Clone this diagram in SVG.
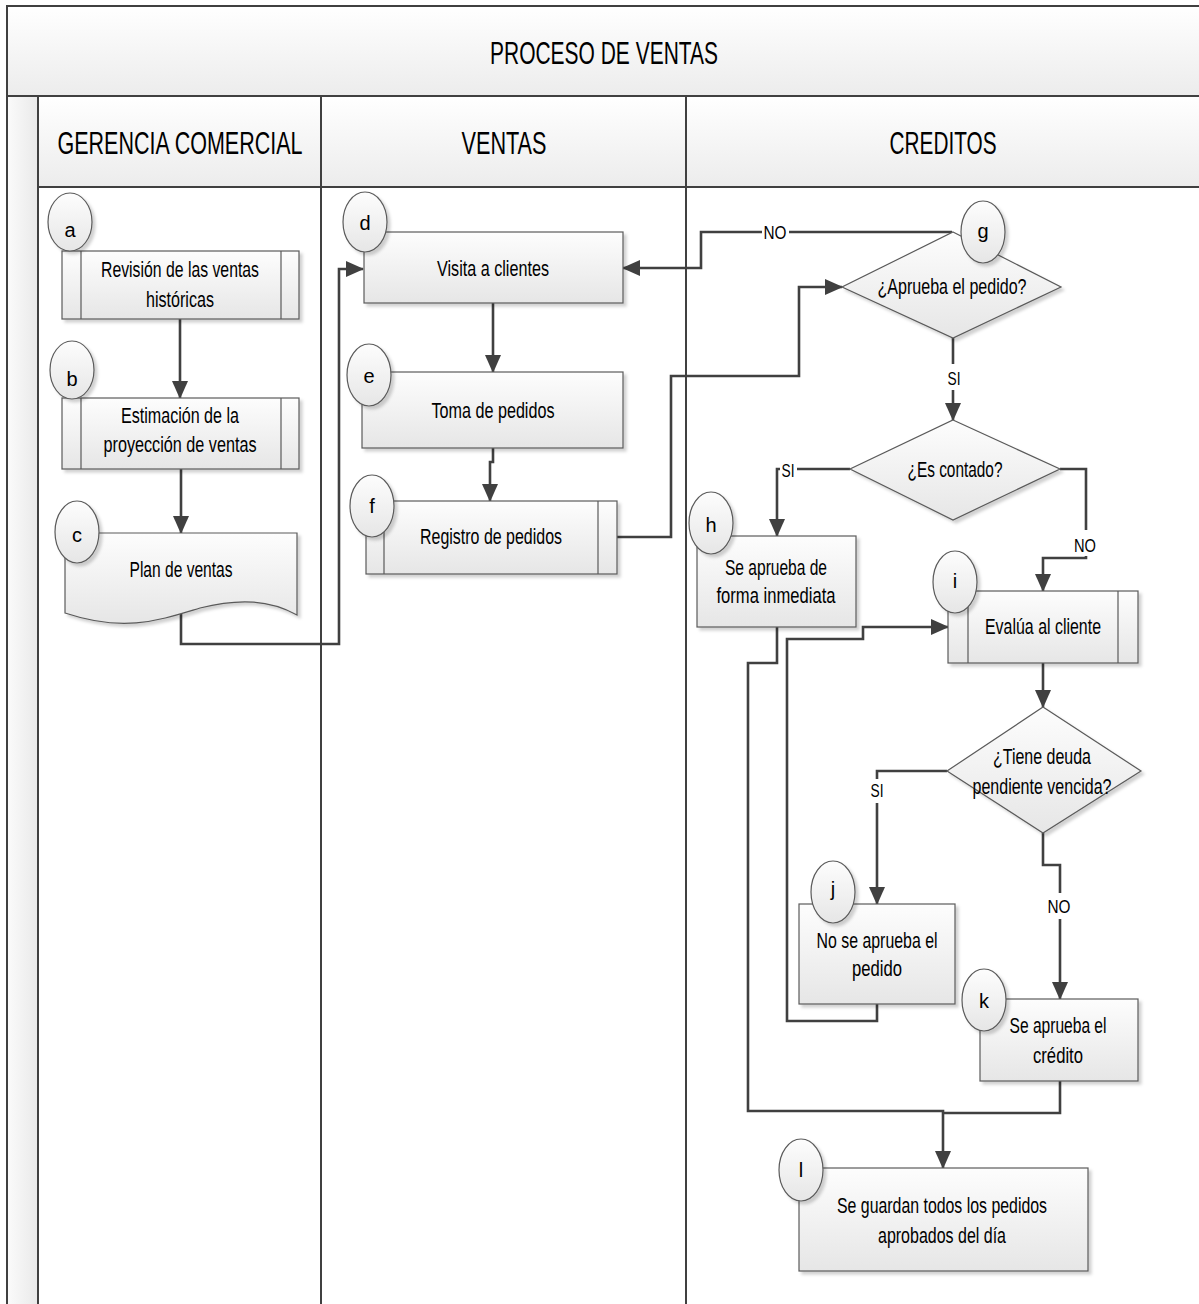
<svg xmlns="http://www.w3.org/2000/svg" width="1199" height="1304" viewBox="0 0 1199 1304">
<defs>
<linearGradient id="gBox" x1="0" y1="0" x2="0" y2="1"><stop offset="0" stop-color="#fdfdfd"/><stop offset="1" stop-color="#e6e6e6"/></linearGradient>
<linearGradient id="gHead" x1="0" y1="0" x2="0" y2="1"><stop offset="0" stop-color="#ffffff"/><stop offset="1" stop-color="#ececec"/></linearGradient>
<linearGradient id="gStrip" x1="0" y1="0" x2="1" y2="0"><stop offset="0" stop-color="#fbfbfb"/><stop offset="1" stop-color="#e9e9e9"/></linearGradient>
<filter id="sh" x="-10%" y="-10%" width="125%" height="130%"><feDropShadow dx="3" dy="3" stdDeviation="1.5" flood-color="#000" flood-opacity="0.18"/></filter>
<marker id="arr" viewBox="0 0 18 16" refX="17" refY="8" markerWidth="18" markerHeight="16" markerUnits="userSpaceOnUse" orient="auto"><path d="M0,0 L18,8 L0,16 Z" fill="#404040"/></marker>
<style>
.frame{fill:none;stroke:#404040;stroke-width:2}
.box{fill:url(#gBox);stroke:#5a5a5a;stroke-width:1.2;filter:url(#sh)}
.ln{stroke:#5a5a5a;stroke-width:1.2;fill:none}
.circ{fill:url(#gBox);stroke:#5a5a5a;stroke-width:1.2;filter:url(#sh)}
.conn{fill:none;stroke:#404040;stroke-width:2.6}
.arrow{marker-end:url(#arr)}
.t{font-family:"Liberation Sans",Arial,sans-serif;font-size:22px;fill:#000;text-anchor:middle}
.h{font-family:"Liberation Sans",Arial,sans-serif;font-size:32px;fill:#000;text-anchor:middle}
.c{font-family:"Liberation Sans",Arial,sans-serif;font-size:20px;fill:#000;text-anchor:middle}
.l{font-family:"Liberation Sans",Arial,sans-serif;font-size:19px;fill:#000;text-anchor:middle}
.bg{fill:#ffffff}
</style>
</defs>
<rect x="0" y="0" width="1199" height="1304" fill="#ffffff"/>
<g id="pool">
<rect x="7" y="6" width="1200" height="90" fill="url(#gHead)"/>
<rect x="38" y="96" width="1170" height="91" fill="url(#gHead)"/>
<rect x="7" y="96" width="31" height="1210" fill="url(#gStrip)"/>
<path class="frame" d="M1200,6 H7 V1306"/>
<path class="frame" d="M7,96 H1200"/>
<path class="frame" d="M38,96 V1306"/>
<path class="frame" d="M38,187 H1200"/>
<path class="frame" d="M321,96 V1306"/>
<path class="frame" d="M686,96 V1306"/>
<text class="h" x="604" y="64" font-size="31" textLength="228" lengthAdjust="spacingAndGlyphs">PROCESO DE VENTAS</text>
<text class="h" x="180" y="154" textLength="245" lengthAdjust="spacingAndGlyphs">GERENCIA COMERCIAL</text>
<text class="h" x="504" y="154" textLength="85" lengthAdjust="spacingAndGlyphs">VENTAS</text>
<text class="h" x="943" y="154" textLength="107" lengthAdjust="spacingAndGlyphs">CREDITOS</text>
</g>
<g id="connectors">
<path class="conn arrow" d="M180,319 V398"/>
<path class="conn arrow" d="M181,469 V533"/>
<path class="conn arrow" d="M181,614 V644 H339 V269 H363"/>
<path class="conn arrow" d="M493,303 V372"/>
<path class="conn arrow" d="M493,448 V462 H490 V501"/>
<path class="conn arrow" d="M617,537 H671 V376 H799 V287 H842"/>
<path class="conn arrow" d="M952,232 H701 V268 H623"/>
<path class="conn arrow" d="M953,338 V420"/>
<path class="conn arrow" d="M850,469 H777 V536"/>
<path class="conn arrow" d="M1060,469 H1086 V558 H1043 V591"/>
<path class="conn arrow" d="M1043,663 V707"/>
<path class="conn arrow" d="M947,771 H877 V904"/>
<path class="conn arrow" d="M1043,833 V865 H1060 V999"/>
<path class="conn arrow" d="M877,1004 V1021 H787 V639 H863 V627 H948"/>
<path class="conn arrow" d="M777,627 V663 H748 V1111 H943 V1168"/>
<path class="conn" d="M1060,1081 V1113 H943"/>
<rect class="bg" x="762" y="222" width="27" height="20"/>
<text class="l" x="775" y="239" textLength="23" lengthAdjust="spacingAndGlyphs">NO</text>
<rect class="bg" x="945" y="364" width="17" height="26"/>
<text class="l" x="954" y="385" textLength="13" lengthAdjust="spacingAndGlyphs">SI</text>
<rect class="bg" x="780" y="459" width="17" height="20"/>
<text class="l" x="788" y="477" textLength="13" lengthAdjust="spacingAndGlyphs">SI</text>
<rect class="bg" x="1072" y="530" width="28" height="26"/>
<text class="l" x="1085" y="552" textLength="22" lengthAdjust="spacingAndGlyphs">NO</text>
<rect class="bg" x="869" y="779" width="17" height="24"/>
<text class="l" x="877" y="797" textLength="13" lengthAdjust="spacingAndGlyphs">SI</text>
<rect class="bg" x="1046" y="893" width="28" height="26"/>
<text class="l" x="1059" y="913" textLength="23" lengthAdjust="spacingAndGlyphs">NO</text>
</g>
<g id="node-a">
<rect class="box" x="62" y="251" width="237" height="68"/>
<path class="ln" d="M81,251 V319 M281,251 V319"/>
<text class="t" x="180" y="277" textLength="158" lengthAdjust="spacingAndGlyphs">Revisión de las ventas</text>
<text class="t" x="180" y="307" textLength="68" lengthAdjust="spacingAndGlyphs">históricas</text>
<ellipse class="circ" cx="70" cy="222" rx="22" ry="29"/>
<text class="c" x="70" y="237">a</text>
</g>
<g id="node-b">
<rect class="box" x="62" y="398" width="237" height="71"/>
<path class="ln" d="M81,398 V469 M281,398 V469"/>
<text class="t" x="180" y="423" textLength="118" lengthAdjust="spacingAndGlyphs">Estimación de la</text>
<text class="t" x="180" y="452" textLength="153" lengthAdjust="spacingAndGlyphs">proyección de ventas</text>
<ellipse class="circ" cx="72" cy="370" rx="22" ry="29"/>
<text class="c" x="72" y="386">b</text>
</g>
<g id="node-c">
<path class="box" d="M65,533 H297 V615 C270,600 240,598 200,608 C160,620 125,633 65,613 Z"/>
<text class="t" x="181" y="577" textLength="103" lengthAdjust="spacingAndGlyphs">Plan de ventas</text>
<ellipse class="circ" cx="77" cy="532" rx="22" ry="31"/>
<text class="c" x="77" y="542">c</text>
</g>
<g id="node-d">
<rect class="box" x="364" y="232" width="259" height="71"/>
<text class="t" x="493" y="276" textLength="112" lengthAdjust="spacingAndGlyphs">Visita a clientes</text>
<ellipse class="circ" cx="365" cy="222" rx="22" ry="30"/>
<text class="c" x="365" y="230">d</text>
</g>
<g id="node-e">
<rect class="box" x="362" y="372" width="261" height="76"/>
<text class="t" x="493" y="418" textLength="123" lengthAdjust="spacingAndGlyphs">Toma de pedidos</text>
<ellipse class="circ" cx="369" cy="375" rx="22" ry="31"/>
<text class="c" x="369" y="383">e</text>
</g>
<g id="node-f">
<rect class="box" x="366" y="501" width="251" height="73"/>
<path class="ln" d="M384,501 V574 M598,501 V574"/>
<text class="t" x="491" y="544" textLength="142" lengthAdjust="spacingAndGlyphs">Registro de pedidos</text>
<ellipse class="circ" cx="372" cy="506" rx="22" ry="31"/>
<text class="c" x="372" y="513">f</text>
</g>
<g id="node-g">
<path class="box" d="M953,232 L1061,287 L953,338 L842,287 Z"/>
<text class="t" x="952" y="294" textLength="149" lengthAdjust="spacingAndGlyphs">¿Aprueba el pedido?</text>
<ellipse class="circ" cx="983" cy="232" rx="22" ry="31"/>
<text class="c" x="983" y="238">g</text>
</g>
<g id="dec-contado">
<path class="box" d="M953,420 L1060,469 L953,520 L850,469 Z"/>
<text class="t" x="955" y="477" textLength="95" lengthAdjust="spacingAndGlyphs">¿Es contado?</text>
</g>
<g id="node-h">
<rect class="box" x="697" y="536" width="159" height="91"/>
<text class="t" x="776" y="575" textLength="102" lengthAdjust="spacingAndGlyphs">Se aprueba de</text>
<text class="t" x="776" y="603" textLength="119" lengthAdjust="spacingAndGlyphs">forma inmediata</text>
<ellipse class="circ" cx="711" cy="523" rx="22" ry="31"/>
<text class="c" x="711" y="532">h</text>
</g>
<g id="node-i">
<rect class="box" x="948" y="591" width="190" height="72"/>
<path class="ln" d="M968,591 V663 M1118,591 V663"/>
<text class="t" x="1043" y="634" textLength="116" lengthAdjust="spacingAndGlyphs">Evalúa al cliente</text>
<ellipse class="circ" cx="955" cy="582" rx="22" ry="31"/>
<text class="c" x="955" y="588">i</text>
</g>
<g id="dec-deuda">
<path class="box" d="M1043,707 L1141,771 L1043,833 L947,771 Z"/>
<text class="t" x="1042" y="764" textLength="98" lengthAdjust="spacingAndGlyphs">¿Tiene deuda</text>
<text class="t" x="1042" y="794" textLength="139" lengthAdjust="spacingAndGlyphs">pendiente vencida?</text>
</g>
<g id="node-j">
<rect class="box" x="799" y="904" width="156" height="100"/>
<text class="t" x="877" y="948" textLength="121" lengthAdjust="spacingAndGlyphs">No se aprueba el</text>
<text class="t" x="877" y="976" textLength="50" lengthAdjust="spacingAndGlyphs">pedido</text>
<ellipse class="circ" cx="833" cy="892" rx="22" ry="31"/>
<text class="c" x="833" y="896">j</text>
</g>
<g id="node-k">
<rect class="box" x="980" y="999" width="158" height="82"/>
<text class="t" x="1058" y="1033" textLength="97" lengthAdjust="spacingAndGlyphs">Se aprueba el</text>
<text class="t" x="1058" y="1063" textLength="50" lengthAdjust="spacingAndGlyphs">crédito</text>
<ellipse class="circ" cx="984" cy="1000" rx="22" ry="31"/>
<text class="c" x="984" y="1008">k</text>
</g>
<g id="node-l">
<rect class="box" x="799" y="1168" width="289" height="103"/>
<text class="t" x="942" y="1213" textLength="210" lengthAdjust="spacingAndGlyphs">Se guardan todos los pedidos</text>
<text class="t" x="942" y="1243" textLength="128" lengthAdjust="spacingAndGlyphs">aprobados del día</text>
<ellipse class="circ" cx="801" cy="1170" rx="22" ry="31"/>
<text class="c" x="801" y="1177">l</text>
</g>
</svg>
